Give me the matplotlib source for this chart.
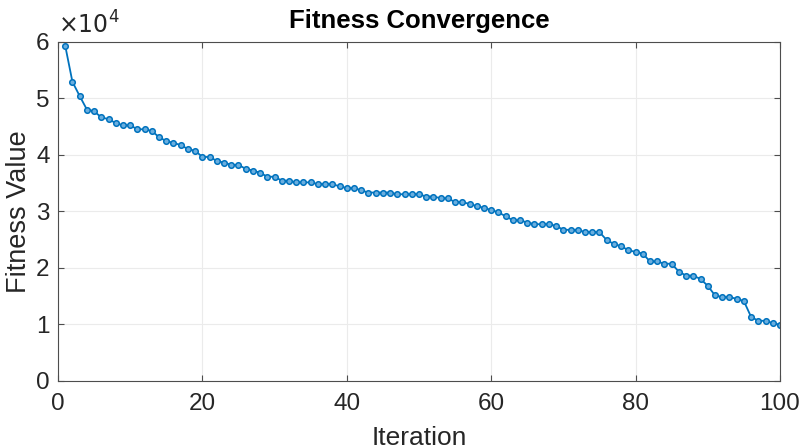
import matplotlib
matplotlib.use("Agg")
import matplotlib.pyplot as plt
from matplotlib.ticker import FuncFormatter

plt.rcParams['font.family'] = ['Liberation Sans', 'DejaVu Sans']

# fitness value per iteration
iterations = list(range(1, 101))
fitness = [
    59300, 52900, 50400, 48000, 47700, 46600, 46300, 45600, 45200, 45200,
    44500, 44500, 44200, 43100, 42400, 42100, 41700, 41000, 40700, 39600,
    39600, 38900, 38600, 38200, 38200, 37500, 37200, 36800, 36100, 36100,
    35400, 35400, 35100, 35100, 35100, 34800, 34800, 34800, 34400, 34100,
    34100, 33700, 33300, 33300, 33300, 33300, 33000, 33000, 33000, 33000,
    32600, 32600, 32300, 32300, 31600, 31600, 31300, 30900, 30600, 30200,
    29800, 29100, 28400, 28400, 28000, 27700, 27700, 27700, 27400, 26700,
    26700, 26700, 26300, 26300, 26300, 24900, 24200, 23800, 23100, 22800,
    22500, 21100, 21100, 20700, 20700, 19300, 18600, 18600, 18000, 16800,
    15100, 14800, 14800, 14500, 14100, 11300, 10600, 10600, 10200, 9900,
]

xticks = [0, 20, 40, 60, 80, 100]
yticks = [0, 10000, 20000, 30000, 40000, 50000, 60000]

fig = plt.figure(figsize=(8.02, 4.47), dpi=100)
ax = fig.add_axes([0.0723, 0.1483, 0.9002, 0.7584])

ax.plot(iterations, fitness, color='#0072BD', linewidth=1.3,
        marker='o', markersize=4.0, markerfacecolor='#6AAEDF',
        markeredgecolor='#0072BD', markeredgewidth=1.1)

ax.set_xlim(0, 100)
ax.set_ylim(0, 60000)
ax.set_xticks(xticks)
ax.set_yticks(yticks)
ax.yaxis.set_major_formatter(FuncFormatter(lambda v, p: f"{v / 1e4:g}"))

ax.grid(True, color='#ebebeb', linewidth=0.8)
ax.set_axisbelow(True)
for s in ax.spines.values():
    s.set_color('#4d4d4d')
    s.set_linewidth(0.8)
ax.tick_params(direction='in', length=4, width=0.8, colors='#4d4d4d',
               labelcolor='#262626', labelsize=17.5, top=True, right=True)
ax.tick_params(axis='x', pad=9)
ax.tick_params(axis='y', pad=6)

ax.text(0.0, 1.01, r'$\times10^{4}$', transform=ax.transAxes,
        fontsize=17, color='#262626', ha='left', va='bottom')

ax.set_title('Fitness Convergence', fontsize=18.5, fontweight='bold', pad=10)
# the reference has this label running off the bottom edge
ax.set_xlabel('Iteration', fontsize=19, color='#262626', labelpad=8)
ax.set_ylabel('Fitness Value', fontsize=19.5, color='#262626', labelpad=3)

fig.savefig('out.png', dpi=100)
